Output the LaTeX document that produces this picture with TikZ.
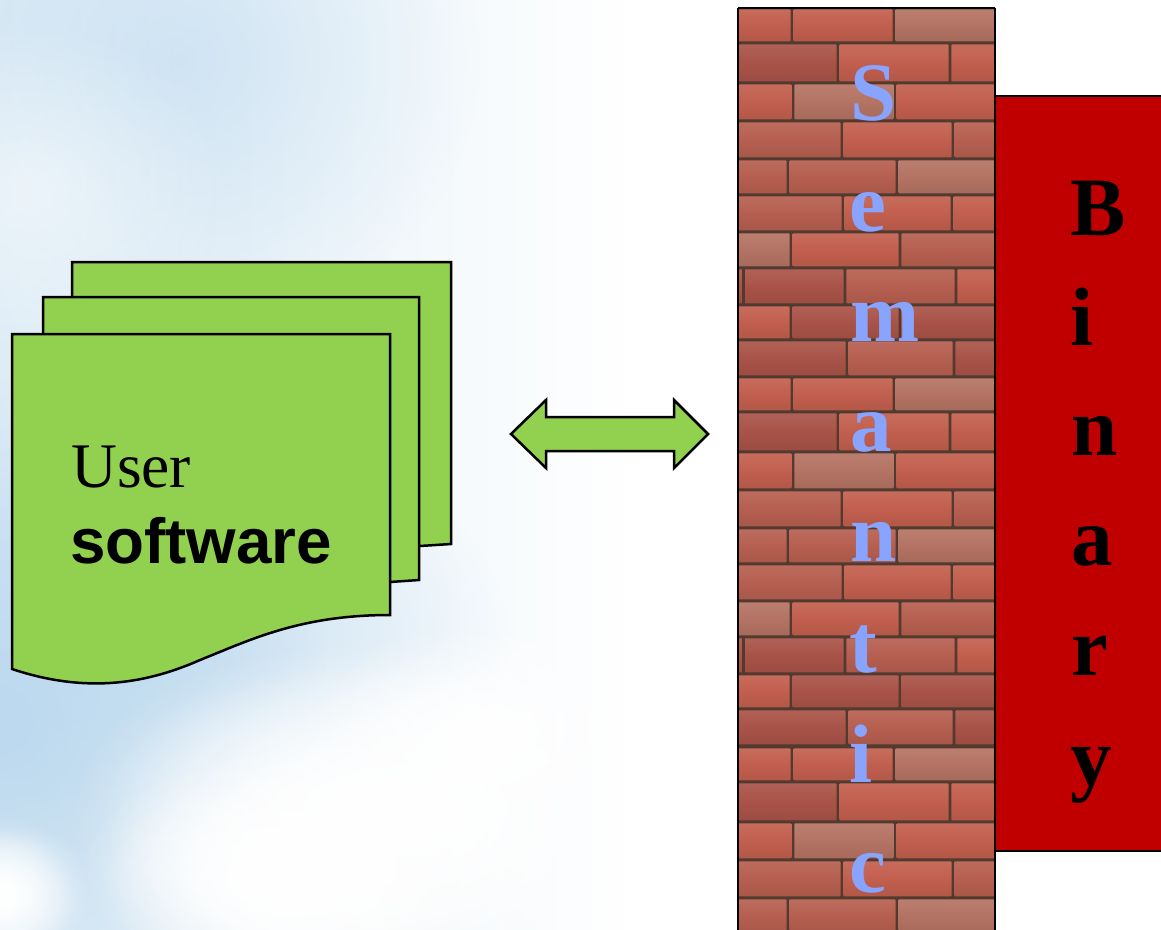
\documentclass[tikz,border=0pt]{standalone}
\usepackage{fontspec}
\setmainfont{Liberation Serif}
\setsansfont{Liberation Sans}
\usetikzlibrary{fadings}
\definecolor{docgreen}{HTML}{92D050}
\definecolor{binred}{HTML}{C00000}
\definecolor{letterblue}{HTML}{88A4FF}
\definecolor{mortar}{HTML}{523A2F}
\definecolor{brA}{HTML}{C25F4E}% bright
\definecolor{brB}{HTML}{B65F50}% mid
\definecolor{brC}{HTML}{B47363}% pale
\definecolor{brD}{HTML}{A95348}% dark
\definecolor{skyA}{HTML}{BCD9EF}
\definecolor{skyB}{HTML}{CFE4F2}
\tikzfading[name=softblob,inner color=transparent!0,outer color=transparent!100]
\tikzset{
  sheet/.style={draw=black,line width=2.5pt,fill=docgreen,line join=miter},
  walltext/.style={anchor=base west,inner sep=0pt,text=letterblue,font=\fontsize{83}{83}\selectfont\bfseries},
  bintext/.style={anchor=base west,inner sep=0pt,text=black,font=\fontsize{83}{83}\selectfont\bfseries},
  blob/.style={path fading=softblob,draw=none},
}
\newcommand{\brick}[5]{% x1 x2 y1 y2 colour
  \shade[top color=#5!92!white,bottom color=#5!92!black,middle color=#5,rounded corners=1pt]
    (#1+1.3,#3+1.3) rectangle (#2-1.3,#4-1.6);}
\begin{document}
\begin{tikzpicture}[x=1pt,y=-1pt]
\useasboundingbox (0,0) rectangle (1161,929);
% sky
\begin{scope}
\clip (0,0) rectangle (1161,929);
\fill[white] (0,0) rectangle (1161,929);
\shade[left color=skyB!70!white,right color=white] (0,0) rectangle (640,929);
\fill[skyA,blob,opacity=.55] (180,60) ellipse (300 and 280);
\fill[white,blob,opacity=.5] (30,190) ellipse (200 and 170);
\fill[skyA,blob] (0,720) ellipse (330 and 340);
\fill[skyA,blob,opacity=.7] (170,640) ellipse (340 and 220);
\fill[white,blob] (370,810) ellipse (300 and 170);
\fill[white,blob] (370,810) ellipse (270 and 150);
\fill[white,blob] (290,870) ellipse (210 and 120);
\fill[white,blob] (290,880) ellipse (190 and 110);
\fill[white,blob] (480,730) ellipse (170 and 110);
\fill[white,blob] (0,895) ellipse (90 and 80);
\fill[white,blob] (0,895) ellipse (75 and 65);
\end{scope}
% stacked documents
\path[sheet] (72,262) -- (451,262) -- (451,544) -- (420,546) -- (390,560) -- (72,560) -- cycle;
\path[sheet] (43,297) -- (419,297) -- (419,580) -- (390,582) -- (360,595) -- (43,595) -- cycle;
\path[sheet] (12,334) -- (390,334) -- (390,615)
  .. controls (300,615) and (250,640) .. (200,660)
  .. controls (150,682) and (90,695) .. (12,669) -- cycle;
\node[anchor=base west,inner sep=0pt,text=black,font=\fontsize{63.5}{63.5}\selectfont] (user) at (71,487) {User};
\node[anchor=base west,inner sep=0pt,text=black,font=\fontsize{63.7}{63.7}\selectfont\sffamily\bfseries] (software) at (70,563) {software};
% double arrow
\path[sheet] (511,434) -- (546,400) -- (546,417) -- (674,417) -- (674,400) -- (708,434)
  -- (674,468) -- (674,451) -- (546,451) -- (546,468) -- cycle;
% binary block
\path[draw=black,line width=2.5pt,fill=binred] (995,96) rectangle (1170,851);
% brick wall
\begin{scope}
\clip (738,8) rectangle (995,935);
\fill[mortar] (738,8) rectangle (995,935);
\foreach \off in {0,369,739}{
  \foreach \ya/\yb/\ja/\jb/\ca/\cb/\cc in {
     8/43/792/894/brA/brA/brC,
     43/83/838/950/brD/brA/brA,
     83/121/793/895/brA/brC/brA,
     121/159/842/953/brB/brA/brB,
     159/195/788/897/brB/brB/brC,
     195/232/843/952/brB/brA/brA,
     232/268/791/900/brC/brA/brB,
     268/305/845/956/brD/brB/brA,
     305/340/791/900/brA/brD/brD,
     340/377/847/954/brD/brB/brD}{
    \brick{730}{\ja}{\ya+\off}{\yb+\off}{\ca}
    \brick{\ja}{\jb}{\ya+\off}{\yb+\off}{\cb}
    \brick{\jb}{1005}{\ya+\off}{\yb+\off}{\cc}
  }
  \fill[mortar] (742,268+\off) rectangle (744.5,305+\off);
}
\end{scope}
\draw[black,line width=2.5pt] (738,8) -- (995,8) (738,8) -- (738,935) (995,8) -- (995,935);
% wall letters
\node[walltext] (w1) at (850,120) {S};
\node[walltext] (w2) at (849,231) {e};
\node[walltext] (w3) at (850,341) {m};
\node[walltext] (w4) at (850,451) {a};
\node[walltext] (w5) at (850,561) {n};
\node[walltext] (w6) at (849,672) {t};
\node[walltext] (w7) at (849,782) {i};
\node[walltext] (w8) at (849,892) {c};
% binary letters
\node[bintext] (b1) at (1070,235) {B};
\node[bintext] (b2) at (1070,345) {i};
\node[bintext] (b3) at (1071,455) {n};
\node[bintext] (b4) at (1071,565) {a};
\node[bintext] (b5) at (1071,675) {r};
\node[bintext] (b6) at (1070,785) {y};
\end{tikzpicture}
\end{document}
